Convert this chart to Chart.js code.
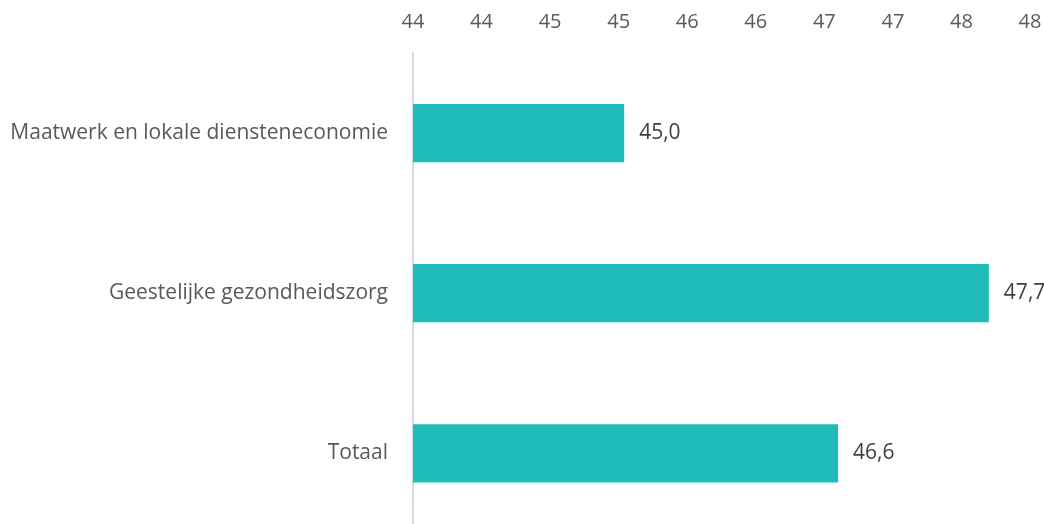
<!DOCTYPE html>
<html>
<head>
<meta charset="utf-8">
<script src="https://cdn.jsdelivr.net/npm/chart.js@4.4.1/dist/chart.umd.min.js"></script>
<style>
  html, body { margin: 0; padding: 0; background: #fff; overflow: hidden; }
  #wrap { width: 1044px; height: 571px; }
</style>
</head>
<body>
<div id="wrap"><canvas id="chart" width="1044" height="571"></canvas></div>
<script>
const sectoren = ['Maatwerk en lokale diensteneconomie', 'Geestelijke gezondheidszorg', 'Totaal'];
const gemiddeldeLeeftijd = [45.04, 47.7, 46.6];
const asMin = 43.5;
const asMax = 48;
const asStap = 0.5;

const FONT = "'Open Sans', sans-serif";

// waarden naast de balken, met komma als decimaalteken
const waardeLabels = {
    id: 'waardeLabels',
    afterDatasetsDraw(chart) {
        const ctx = chart.ctx;
        const meta = chart.getDatasetMeta(0);
        ctx.save();
        ctx.font = '21px ' + FONT;
        ctx.fillStyle = '#404040';
        ctx.textAlign = 'left';
        ctx.textBaseline = 'middle';
        meta.data.forEach((bar, i) => {
            const tekst = gemiddeldeLeeftijd[i].toFixed(1).replace('.', ',');
            ctx.fillText(tekst, bar.x + 15, bar.y);
        });
        ctx.restore();
    }
};

new Chart(document.getElementById('chart'), {
    type: 'bar',
    data: {
        labels: sectoren,
        datasets: [{
            data: gemiddeldeLeeftijd,
            backgroundColor: '#20BCBA',
            borderWidth: 0,
            categoryPercentage: 1,
            barPercentage: 0.364
        }]
    },
    options: {
        indexAxis: 'y',
        responsive: false,
        animation: false,
        layout: { padding: { left: 0, right: 14, top: 0, bottom: 8 } },
        plugins: {
            legend: { display: false },
            tooltip: { enabled: false }
        },
        scales: {
            x: {
                position: 'top',
                min: asMin,
                max: asMax,
                afterFit: s => {
                    s.height = 53;
                    s.paddingLeft = 0;
                    s.paddingRight = 0;
                },
                grid: { display: false, drawTicks: false },
                border: { display: false },
                ticks: {
                    stepSize: asStap,
                    padding: 19,
                    color: '#595959',
                    font: { family: FONT, size: 20 },
                    callback: v => Math.round(v)
                }
            },
            y: {
                afterFit: s => { s.width = 413; },
                grid: { display: false, drawTicks: false },
                border: { display: true, color: '#D9D9D9', width: 2 },
                ticks: {
                    padding: 25,
                    color: '#595959',
                    font: { family: FONT, size: 21 }
                }
            }
        }
    },
    plugins: [waardeLabels]
});
</script>
</body>
</html>
